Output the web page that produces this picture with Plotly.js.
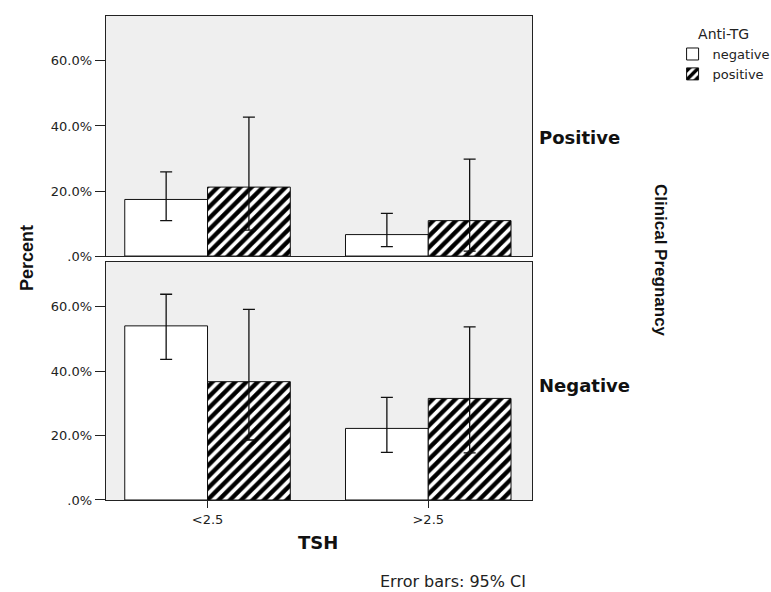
<!DOCTYPE html>
<html>
<head>
<meta charset="utf-8">
<script src="https://cdn.plot.ly/plotly-3.0.1.min.js"></script>
<style>html,body{margin:0;padding:0;background:#fff;}#chart{width:771px;height:592px;}</style>
</head>
<body>
<div id="chart"></div>
<script>
// Categories (TSH)
var categories = ['<2.5', '>2.5'];
var seriesNames = ['negative', 'positive'];
var yTickVals = [0, 20, 40, 60];
var yTickText = ['.0%', '20.0%', '40.0%', '60.0%'];

// Clinical Pregnancy = Positive (top panel), percent
var posPregNegTG = [17.4, 6.6];
var posPregNegTGHi = [25.9, 13.1];
var posPregNegTGLo = [10.9, 2.9];
var posPregPosTG = [21.2, 10.9];
var posPregPosTGHi = [42.7, 29.8];
var posPregPosTGLo = [8.0, 1.5];

// Clinical Pregnancy = Negative (bottom panel), percent
var negPregNegTG = [54.0, 22.2];
var negPregNegTGHi = [63.8, 31.8];
var negPregNegTGLo = [43.6, 14.8];
var negPregPosTG = [36.7, 31.5];
var negPregPosTGHi = [59.1, 53.7];
var negPregPosTGLo = [18.6, 14.6];

function up(v, hi) { return v.map(function (d, i) { return hi[i] - d; }); }
function dn(v, lo) { return v.map(function (d, i) { return d - lo[i]; }); }

var errStyle = {color: '#111', thickness: 1.3, width: 6};
var lineStyle = {color: '#111', width: 1};
var hatch = {shape: '/', fgcolor: '#000', bgcolor: '#fff', size: 8, solidity: 0.55, fillmode: 'replace'};

function barTrace(name, vals, hi, lo, xa, ya, hatched, showlegend) {
  var e = Object.assign({type: 'data', symmetric: false, array: up(vals, hi), arrayminus: dn(vals, lo)}, errStyle);
  var m = {color: '#fff', line: lineStyle};
  if (hatched) m.pattern = hatch;
  return {type: 'bar', name: name, x: categories, y: vals, xaxis: xa, yaxis: ya,
    marker: m, error_y: e, showlegend: showlegend, legendgroup: name, hoverinfo: 'skip'};
}

var data = [
  barTrace(seriesNames[0], posPregNegTG, posPregNegTGHi, posPregNegTGLo, 'x2', 'y', false, true),
  barTrace(seriesNames[1], posPregPosTG, posPregPosTGHi, posPregPosTGLo, 'x2', 'y', true, true),
  barTrace(seriesNames[0], negPregNegTG, negPregNegTGHi, negPregNegTGLo, 'x', 'y2', false, false),
  barTrace(seriesNames[1], negPregPosTG, negPregPosTGHi, negPregPosTGLo, 'x', 'y2', true, false)
];

var tickFont = {family: 'DejaVu Sans, Arial, sans-serif', size: 13, color: '#222'};
var frame = {showline: true, mirror: true, linecolor: '#222', linewidth: 1.3, showgrid: false, zeroline: false};

var layout = {
  width: 771, height: 592,
  margin: {l: 106, r: 239, t: 16, b: 92, autoexpand: false},
  paper_bgcolor: '#fff', plot_bgcolor: '#efefef',
  barmode: 'group', bargap: 0.25, bargroupgap: 0,
  font: {family: 'Liberation Sans, Arial, sans-serif', color: '#222'},
  xaxis: Object.assign({domain: [0, 1], anchor: 'y2', type: 'category', range: [-0.46, 1.47],
    ticks: 'outside', ticklen: 7, tickcolor: '#222', tickfont: tickFont}, frame),
  xaxis2: Object.assign({domain: [0, 1], anchor: 'y', type: 'category', range: [-0.46, 1.47],
    ticks: '', showticklabels: false}, frame),
  yaxis: Object.assign({domain: [0.504, 1], anchor: 'x2', range: [0, 73.8],
    tickvals: yTickVals, ticktext: yTickText, ticks: 'outside', ticklen: 10, tickcolor: '#222', tickfont: tickFont}, frame),
  yaxis2: Object.assign({domain: [0, 0.4917], anchor: 'x', range: [0, 73.8],
    tickvals: yTickVals, ticktext: yTickText, ticks: 'outside', ticklen: 10, tickcolor: '#222', tickfont: tickFont}, frame),
  showlegend: true,
  legend: {x: 1.33, y: 0.99, xanchor: 'left', yanchor: 'top', bgcolor: 'rgba(0,0,0,0)',
    font: {family: 'DejaVu Sans, Arial, sans-serif', size: 13, color: '#222'},
    title: {text: 'Anti-TG', side: 'top center', font: {family: 'DejaVu Sans, Arial, sans-serif', size: 14, color: '#222'}},
    traceorder: 'normal'},
  annotations: [
    {text: 'Positive', xref: 'paper', yref: 'paper', x: 1.0117, y: 0.748, xanchor: 'left', yanchor: 'middle', showarrow: false,
      font: {family: 'DejaVu Sans, Arial, sans-serif', size: 18, color: '#111', weight: 'bold'}},
    {text: 'Negative', xref: 'paper', yref: 'paper', x: 1.0117, y: 0.2376, xanchor: 'left', yanchor: 'middle', showarrow: false,
      font: {family: 'DejaVu Sans, Arial, sans-serif', size: 18, color: '#111', weight: 'bold'}},
    {text: 'Clinical Pregnancy', xref: 'paper', yref: 'paper', x: 1.3005, y: 0.496, xanchor: 'center', yanchor: 'middle', textangle: 90, showarrow: false,
      font: {family: 'Liberation Sans, Arial, sans-serif', size: 17, color: '#111', weight: 'bold'}},
    {text: 'Percent', xref: 'paper', yref: 'paper', x: -0.1854, y: 0.5, xanchor: 'center', yanchor: 'middle', textangle: -90, showarrow: false,
      font: {family: 'Liberation Sans, Arial, sans-serif', size: 18, color: '#111', weight: 'bold'}},
    {text: 'TSH', xref: 'paper', yref: 'paper', x: 0.4977, y: -0.0888, xanchor: 'center', yanchor: 'middle', showarrow: false,
      font: {family: 'DejaVu Sans, Arial, sans-serif', size: 18, color: '#111', weight: 'bold'}},
    {text: 'Error bars: 95% CI', xref: 'paper', yref: 'paper', x: 0.8146, y: -0.1674, xanchor: 'center', yanchor: 'middle', showarrow: false,
      font: {family: 'DejaVu Sans, Arial, sans-serif', size: 16, color: '#222'}}
  ]
};

Plotly.newPlot('chart', data, layout, {displayModeBar: false, staticPlot: true});
</script>
</body>
</html>
